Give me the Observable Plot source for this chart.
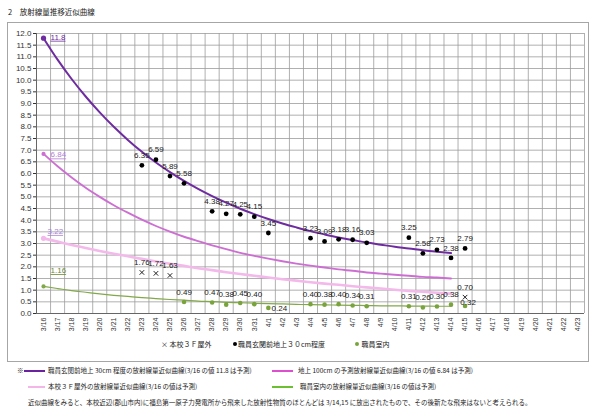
<!DOCTYPE html>
<html><head><meta charset="utf-8">
<script src="https://cdn.jsdelivr.net/npm/d3@7"></script>
<script src="https://cdn.jsdelivr.net/npm/@observablehq/plot@0.6"></script>
<style>
body{margin:0;background:#fff;font-family:"Noto Sans CJK JP","Noto Sans",sans-serif;color:#222;}
#wrap{position:relative;width:600px;height:413px;overflow:hidden;}
.abs{position:absolute;white-space:nowrap;line-height:1;}
#title{left:8px;top:8px;font-size:7.5px;}
#box{left:7px;top:22px;width:582px;height:340px;box-sizing:border-box;border:1px solid #a6a6a6;}
#chart{left:8px;top:23px;}
.startlab text{text-decoration:underline;}
.leg{font-size:7px;top:341px;}
.dotk{display:inline-block;width:4px;height:4px;border-radius:50%;margin-right:1px;vertical-align:1px;}
.note{font-size:6.5px;}
.sw{position:absolute;height:2px;}
</style></head>
<body><div id="wrap">
<div id="title" class="abs">2　放射線量推移近似曲線</div>
<div id="box" class="abs"></div>
<div id="chart" class="abs"></div>
<div class="abs leg" style="left:161px">× 本校３Ｆ屋外</div>
<div class="abs leg" style="left:233px"><span class="dotk" style="background:#000"></span>職員玄関前地上３０cm程度</div>
<div class="abs leg" style="left:355px"><span class="dotk" style="background:#7aa33e"></span> 職員室内</div>
<div class="abs note" style="left:17px;top:367px">※</div>
<div class="sw" style="left:24px;width:21px;top:370px;background:#6a22a0"></div>
<div class="abs note" style="left:48px;top:367px">職員玄関前地上 30cm 程度の放射線量近似曲線(3/16 の値 11.8 は予測)</div>
<div class="sw" style="left:272px;width:21px;top:370px;background:#dd4fcf"></div>
<div class="abs note" style="left:298px;top:367px">地上 100cm の予測放射線量近似曲線(3/16 の値 6.84 は予測)</div>
<div class="sw" style="left:28px;width:17px;top:386px;background:#f4b6e8"></div>
<div class="abs note" style="left:48px;top:383px">本校３Ｆ屋外の放射線量近似曲線(3/16 の値は予測)</div>
<div class="sw" style="left:272px;width:21px;top:386px;background:#6cbf30"></div>
<div class="abs note" style="left:300px;top:383px">職員室内の放射線量近似曲線(3/16 の値は予測)</div>
<div class="abs note" style="left:28px;top:399px">近似曲線をみると、本校近辺(郡山市内)に福島第一原子力発電所から飛来した放射性物質のほとんどは 3/14,15 に放出されたもので、その後新たな飛来はないと考えられる。</div>
</div>
<script>
const days = ["3/16","3/17","3/18","3/19","3/20","3/21","3/22","3/23","3/24","3/25","3/26","3/27","3/28","3/29","3/30","3/31",
  "4/1","4/2","4/3","4/4","4/5","4/6","4/7","4/8","4/9","4/10","4/11","4/12","4/13","4/14","4/15","4/16","4/17","4/18","4/19","4/20","4/21","4/22","4/23"];
const yTicks = [0,0.5,1,1.5,2,2.5,3,3.5,4,4.5,5,5.5,6,6.5,7,7.5,8,8.5,9,9.5,10,10.5,11,11.5,12];

// measured: entrance, 30cm above ground (black dots)
const entranceDays = ["3/23","3/24","3/25","3/26","3/28","3/29","3/30","3/31","4/1","4/4","4/5","4/6","4/7","4/8","4/11","4/12","4/13","4/14","4/15"];
const entranceValues = [6.35,6.59,5.89,5.58,4.38,4.27,4.25,4.15,3.45,3.23,3.09,3.18,3.16,3.03,3.25,2.58,2.73,2.38,2.79];
// measured: school 3F outdoors (x marks)
const roofDays = ["3/23","3/24","3/25","4/15"];
const roofValues = [1.76,1.72,1.63,0.70];
// measured: staff room (green dots)
const roomDays = ["3/26","3/28","3/29","3/30","3/31","4/1","4/4","4/5","4/6","4/7","4/8","4/11","4/12","4/13","4/14","4/15"];
const roomValues = [0.49,0.47,0.38,0.45,0.40,0.24,0.40,0.38,0.40,0.34,0.31,0.31,0.26,0.30,0.38,0.32];

// approximation curves (3/16 .. 4/14)
const curveDays = days.slice(0, 30);
const curve30cm = [11.80,10.88,10.05,9.30,8.62,8.00,7.44,6.93,6.47,6.06,5.68,5.34,5.03,4.75,4.49,4.26,4.05,3.86,3.69,3.53,3.39,3.26,3.15,3.04,2.95,2.86,2.79,2.71,2.65,2.59];
const curve100cm = [6.84,6.31,5.83,5.39,5.00,4.64,4.32,4.02,3.75,3.51,3.29,3.10,2.92,2.76,2.60,2.47,2.35,2.24,2.14,2.05,1.97,1.89,1.83,1.76,1.71,1.66,1.62,1.57,1.54,1.50];
const curveRoof = [3.22,3.08,2.94,2.81,2.68,2.56,2.45,2.34,2.23,2.13,2.04,1.94,1.86,1.77,1.69,1.62,1.54,1.47,1.41,1.34,1.28,1.23,1.17,1.12,1.07,1.02,0.97,0.93,0.89,0.85];
const curveRoom = [1.16,1.07,0.98,0.91,0.84,0.78,0.73,0.68,0.64,0.60,0.57,0.53,0.51,0.48,0.46,0.44,0.42,0.41,0.39,0.38,0.37,0.36,0.35,0.34,0.33,0.33,0.32,0.32,0.31,0.31];
const startLabels = ["11.8","6.84","3.22","1.16"];

const idx = d => days.indexOf(d);
const pts = (ds, vs) => ds.map((d, i) => ({x: idx(d), y: vs[i], label: vs[i].toFixed(2)}));
const curve = vs => curveDays.map((d, i) => ({x: idx(d), y: vs[i]}));

const entrance = pts(entranceDays, entranceValues);
const roof = pts(roofDays, roofValues);
const room = pts(roomDays, roomValues);
const curves = [
  {data: curve(curveRoof), color: "#f3b9ea", w: 2.6, lab: startLabels[2], lc: "#a883d6", dx: 4, dy: -7},
  {data: curve(curve100cm), color: "#cd6fd2", w: 1.9, lab: startLabels[1], lc: "#b77cd4", dx: 7, dy: 1},
  {data: curve(curveRoom), color: "#82a84a", w: 1.2, lab: startLabels[3], lc: "#6e8a35", dx: 7, dy: -16},
  {data: curve(curve30cm), color: "#6e2ca0", w: 2, lab: startLabels[0], lc: "#6e2ca0", dx: 7, dy: -1}
];

const font = '"Liberation Sans","Noto Sans CJK JP",sans-serif';
const marks = [
  Plot.gridY({ticks: yTicks, stroke: "#9c9c9c", strokeOpacity: 1, strokeWidth: 0.8}),
  Plot.gridX({ticks: d3.range(-0.5, 38.6, 1), stroke: "#9c9c9c", strokeOpacity: 1, strokeWidth: 0.8}),
  Plot.ruleY([0], {stroke: "#666"}),
  Plot.ruleX([-0.5], {stroke: "#666"}),
  Plot.axisY({ticks: yTicks, tickFormat: d => d.toFixed(1), tickSize: 3, tickPadding: 2, fontSize: 8, color: "#333", label: null}),
  Plot.axisX({ticks: d3.range(0, 39), tickFormat: i => days[i], tickRotate: -90, tickSize: 0, tickPadding: 4, fontSize: 7, color: "#333", label: null}),
];
for (const c of curves) {
  marks.push(Plot.line(c.data, {x: "x", y: "y", stroke: c.color, strokeWidth: c.w, curve: "monotone-x"}));
  marks.push(Plot.dot(c.data.slice(0, 1), {x: "x", y: "y", fill: c.color, r: c.w > 1.9 ? 2.6 : 2.1}));
  marks.push(Plot.text(c.data.slice(0, 1), {x: "x", y: "y", text: () => c.lab, fill: c.lc, textAnchor: "start", dx: c.dx, dy: c.dy, fontSize: 8, className: "startlab"}));
}
marks.push(
  Plot.dot(entrance, {x: "x", y: "y", fill: "#000", r: 2.4}),
  Plot.text(entrance, {x: "x", y: "y", text: "label", dy: -10, fontSize: 8, fill: "#222"}),
  Plot.dot(roof, {x: "x", y: "y", symbol: "times", stroke: "#222", r: 2.2, strokeWidth: 1}),
  Plot.text(roof, {x: "x", y: "y", text: "label", dy: -10, fontSize: 8, fill: "#222"}),
  Plot.dot(room, {x: "x", y: "y", fill: "#7aa33e", r: 2.3}),
  Plot.text(room.filter(d => d.x !== idx("4/1") && d.x !== idx("4/15")), {x: "x", y: "y", text: "label", dy: -10, fontSize: 8, fill: "#222"}),
  Plot.text(room.filter(d => d.x === idx("4/1")), {x: "x", y: "y", text: "label", dx: 11, dy: 1, fontSize: 8, fill: "#222"}),
  Plot.text(room.filter(d => d.x === idx("4/15")), {x: "x", y: "y", text: "label", dx: 3, dy: -4, fontSize: 8, fill: "#222"})
);

const chart = Plot.plot({
  width: 580, height: 316,
  marginLeft: 28, marginRight: 4, marginTop: 10, marginBottom: 26,
  style: {fontFamily: font, background: "transparent", overflow: "visible"},
  x: {type: "linear", domain: [-0.5, 38.5], label: null},
  y: {domain: [0, 12], label: null},
  marks
});
document.getElementById("chart").appendChild(chart);
</script>
</body></html>
